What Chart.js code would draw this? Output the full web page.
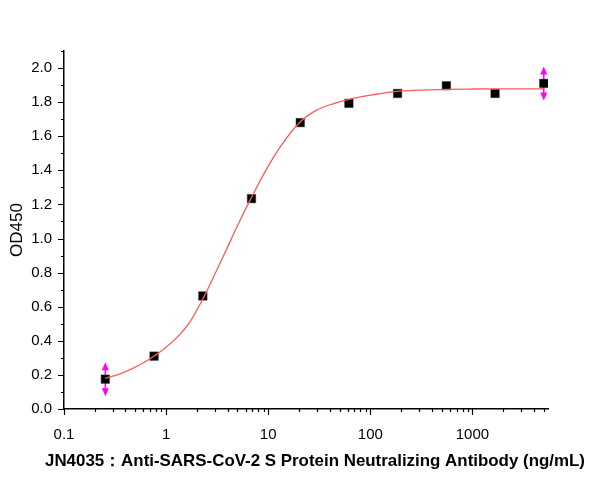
<!DOCTYPE html>
<html>
<head>
<meta charset="utf-8">
<script src="https://cdn.jsdelivr.net/npm/chart.js@4.4.0/dist/chart.umd.min.js"></script>
<style>
  html, body { margin: 0; padding: 0; background: #fff; }
  #wrap { width: 600px; height: 477px; }
</style>
</head>
<body>
<div id="wrap"><canvas id="odChart" width="600" height="477"></canvas></div>
<script>
// Donnees (dilutions 1:3 depuis 5000 ng/mL)
const concentrations = [0.254, 0.762, 2.29, 6.86, 20.6, 61.7, 185, 556, 1667, 5000];
const od450 = [0.175, 0.31, 0.663, 1.234, 1.68, 1.793, 1.851, 1.896, 1.851, 1.91];

// Courbe d'ajustement relevee point par point sur l'image
const fitX = [0.254, 0.35, 0.472, 0.638, 0.769, 1.0, 1.35, 1.69, 2.0, 2.29, 3.0, 3.86, 5.0, 6.76, 9.48, 13.8, 20.4, 29.2, 42.4, 60.7, 104, 179, 300, 556, 1000, 2000, 5000];
const fitY = [0.18, 0.205, 0.238, 0.28, 0.312, 0.362, 0.435, 0.505, 0.58, 0.645, 0.79, 0.93, 1.075, 1.234, 1.40, 1.556, 1.682, 1.75, 1.789, 1.815, 1.842, 1.863, 1.870, 1.875, 1.877, 1.878, 1.878];

// Graduations
const xTicks = [0.1, 1, 10, 100, 1000];
const yTicks = [0, 0.2, 0.4, 0.6, 0.8, 1.0, 1.2, 1.4, 1.6, 1.8, 2.0];
const arrowPoints = [0, 9]; // points marques d'une double fleche magenta
const xTitle = 'JN4035：Anti-SARS-CoV-2 S Protein Neutralizing Antibody (ng/mL)';

const FONT = "'Liberation Sans', Arial, sans-serif";
Chart.defaults.font.family = FONT;
Chart.defaults.color = '#000';

// Graduations majeures/mineures vers l'exterieur (style Origin)
const axisTicksPlugin = {
  id: 'axisTicks',
  afterDraw(chart) {
    const { ctx, chartArea, scales: { x, y } } = chart;
    ctx.save();
    ctx.strokeStyle = '#000';
    ctx.lineWidth = 1.2;
    ctx.beginPath();
    // axe x (log) : majeures aux puissances de 10, mineures 2..9
    for (let e = -1; e <= 3; e++) {
      for (let m = 1; m <= 9; m++) {
        const v = m * Math.pow(10, e);
        if (v < x.min || v > x.max) continue;
        const px = Math.round(x.getPixelForValue(v)) + 0.5;
        const len = m === 1 ? 6 : 3;
        ctx.moveTo(px, chartArea.bottom);
        ctx.lineTo(px, chartArea.bottom + len);
      }
    }
    // axe y : majeures 0.2, mineures 0.1
    for (let i = 0; i <= 21; i++) {
      const v = i / 10;
      const py = Math.round(y.getPixelForValue(v)) + 0.5;
      const len = i % 2 === 0 ? 6 : 3;
      ctx.moveTo(chartArea.left, py);
      ctx.lineTo(chartArea.left - len, py);
    }
    ctx.stroke();

    // titre de l'axe x : plus large que la zone du graphique, donc dessine ici
    ctx.font = 'bold 17px ' + FONT;
    ctx.fillStyle = '#000';
    ctx.textAlign = 'center';
    ctx.textBaseline = 'middle';
    ctx.fillText(xTitle, 315, 461, 540);
    ctx.restore();
  }
};

// Doubles fleches verticales magenta derriere les marqueurs
const arrowPlugin = {
  id: 'arrows',
  beforeDatasetDraw(chart, args) {
    if (args.index !== 1) return;
    const { ctx } = chart;
    const meta = chart.getDatasetMeta(1);
    ctx.save();
    ctx.strokeStyle = '#ff00ff';
    ctx.fillStyle = '#ff00ff';
    ctx.lineWidth = 1.5;
    arrowPoints.forEach(i => {
      const p = meta.data[i];
      const cx = p.x, cy = p.y;
      ctx.beginPath();
      ctx.moveTo(cx, cy - 12);
      ctx.lineTo(cx, cy + 12);
      ctx.stroke();
      ctx.beginPath();
      ctx.moveTo(cx, cy - 17);
      ctx.lineTo(cx - 3.5, cy - 9);
      ctx.lineTo(cx + 3.5, cy - 9);
      ctx.closePath();
      ctx.moveTo(cx, cy + 17);
      ctx.lineTo(cx - 3.5, cy + 9);
      ctx.lineTo(cx + 3.5, cy + 9);
      ctx.closePath();
      ctx.fill();
    });
    ctx.restore();
  }
};

new Chart(document.getElementById('odChart'), {
  type: 'scatter',
  data: {
    datasets: [
      {
        label: 'Fit',
        data: fitX.map((v, i) => ({ x: v, y: fitY[i] })),
        showLine: true,
        borderColor: '#ff5a5a',
        borderWidth: 1.3,
        pointRadius: 0,
        cubicInterpolationMode: 'monotone',
      },
      {
        label: 'OD450',
        data: concentrations.map((v, i) => ({ x: v, y: od450[i] })),
        pointStyle: 'rect',
        pointRadius: 6,
        pointBackgroundColor: '#000',
        pointBorderColor: '#333',
        pointBorderWidth: 0.5,
      },
    ],
  },
  options: {
    responsive: false,
    animation: false,
    events: [],
    layout: { padding: { left: 0, top: 51, right: 52, bottom: 0 } },
    plugins: { legend: { display: false }, tooltip: { enabled: false } },
    scales: {
      x: {
        type: 'logarithmic',
        min: 0.1,
        max: 5500,
        afterBuildTicks: s => { s.ticks = xTicks.map(v => ({ value: v })); },
        afterFit: s => { s.height = 68; },
        grid: { display: true, drawOnChartArea: false, drawTicks: false },
        border: { color: '#000', width: 1.5 },
        ticks: {
          padding: 17,
          maxRotation: 0,
          font: { size: 15 },
          color: '#000',
          callback: v => String(v),
        },
        title: { display: false },
      },
      y: {
        min: 0,
        max: 2.1,
        afterBuildTicks: s => { s.ticks = yTicks.map(v => ({ value: v })); },
        afterFit: s => { s.width = 64; },
        grid: { display: true, drawOnChartArea: false, drawTicks: false },
        border: { color: '#000', width: 1.5 },
        ticks: {
          padding: 12,
          font: { size: 15 },
          color: '#000',
          callback: v => v.toFixed(1),
        },
        title: {
          display: true,
          text: 'OD450',
          font: { size: 17 },
          color: '#000',
          padding: { top: 7, bottom: 0 },
        },
      },
    },
  },
  plugins: [axisTicksPlugin, arrowPlugin],
});
</script>
</body>
</html>
